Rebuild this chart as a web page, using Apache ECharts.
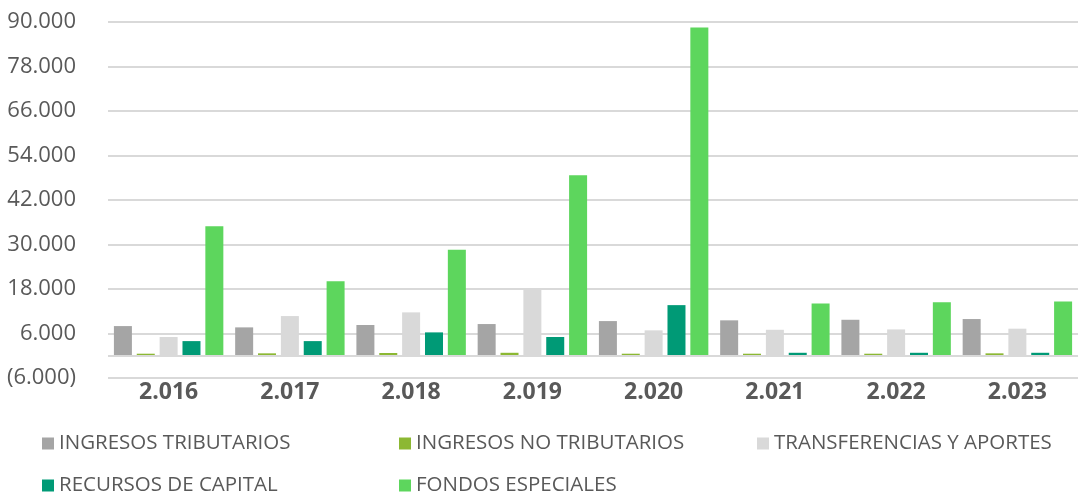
<!DOCTYPE html>
<html>
<head>
<meta charset="utf-8">
<script src="https://cdn.jsdelivr.net/npm/echarts@6/dist/echarts.min.js"></script>
<style>
  html, body { margin: 0; padding: 0; background: #fff; }
  #chart { width: 1078px; height: 493px; }
</style>
</head>
<body>
<div id="chart"></div>
<script>
// años (formato con punto de miles, como en la fuente)
const years = ['2.016', '2.017', '2.018', '2.019', '2.020', '2.021', '2.022', '2.023'];

// valores (millones)
const ingresosTributarios   = [8000, 7650, 8300, 8550, 9350, 9550, 9700, 9900];
const ingresosNoTributarios = [550, 650, 750, 800, 550, 550, 550, 650];
const transferencias        = [5050, 10700, 11700, 18250, 6850, 7000, 7100, 7300];
const recursosCapital       = [3950, 3950, 6300, 5050, 13650, 800, 800, 800];
const fondosEspeciales      = [34900, 20100, 28600, 48700, 88500, 14100, 14400, 14650];

const names = ['INGRESOS TRIBUTARIOS', 'INGRESOS NO TRIBUTARIOS', 'TRANSFERENCIAS Y APORTES',
               'RECURSOS DE CAPITAL', 'FONDOS ESPECIALES'];
const colors = ['#a5a5a5', '#8cb833', '#d9d9d9', '#009a76', '#5dd65d'];

const textColor = '#595959';
const gridColor = '#d9d9d9';
const font = '"Open Sans", sans-serif';

function miles(v) {
  return String(Math.abs(v)).replace(/\B(?=(\d{3})+(?!\d))/g, '.');
}

const chart = echarts.init(document.getElementById('chart'));

function serie(i, data) {
  const s = {
    name: names[i],
    type: 'bar',
    data: data,
    barWidth: 18,
    barGap: '27%',
    itemStyle: { color: colors[i] },
    emphasis: { disabled: true }
  };
  if (i === 0) {
    // línea del cero
    s.markLine = {
      silent: true,
      symbol: 'none',
      label: { show: false },
      lineStyle: { color: gridColor, width: 2, type: 'solid' },
      data: [{ yAxis: 0 }],
      animation: false
    };
  }
  return s;
}

// una leyenda por elemento para fijar su posición (2 filas)
const legendPos = [[42, 433], [399, 433], [757, 433], [42, 475], [399, 475]];
const legends = names.map((n, i) => ({
  left: legendPos[i][0],
  top: legendPos[i][1],
  data: [n],
  icon: 'rect',
  itemWidth: 12,
  itemHeight: 12,
  itemGap: 0,
  padding: 0,
  selectedMode: false,
  textStyle: { color: textColor, fontSize: 20.5, fontFamily: font, lineHeight: 20 }
}));

chart.setOption({
  animation: false,
  color: colors,
  grid: { left: 108, right: -12, top: 22, bottom: 115 },
  legend: legends,
  xAxis: {
    type: 'category',
    data: years,
    axisLine: { show: false, onZero: false },
    axisTick: { show: false },
    axisLabel: {
      color: textColor,
      fontSize: 23,
      fontWeight: 'bold',
      fontFamily: font,
      margin: 3
    }
  },
  yAxis: {
    type: 'value',
    min: -6000,
    max: 90000,
    interval: 12000,
    axisLine: { show: false },
    axisTick: { show: false },
    splitLine: { lineStyle: { color: gridColor, width: 2 } },
    axisLabel: {
      color: textColor,
      fontSize: 22,
      fontFamily: font,
      margin: 32,
      formatter: v => v < 0 ? '(' + miles(v) + ')' : miles(v)
    }
  },
  series: [
    serie(0, ingresosTributarios),
    serie(1, ingresosNoTributarios),
    serie(2, transferencias),
    serie(3, recursosCapital),
    serie(4, fondosEspeciales)
  ]
});
</script>
</body>
</html>
